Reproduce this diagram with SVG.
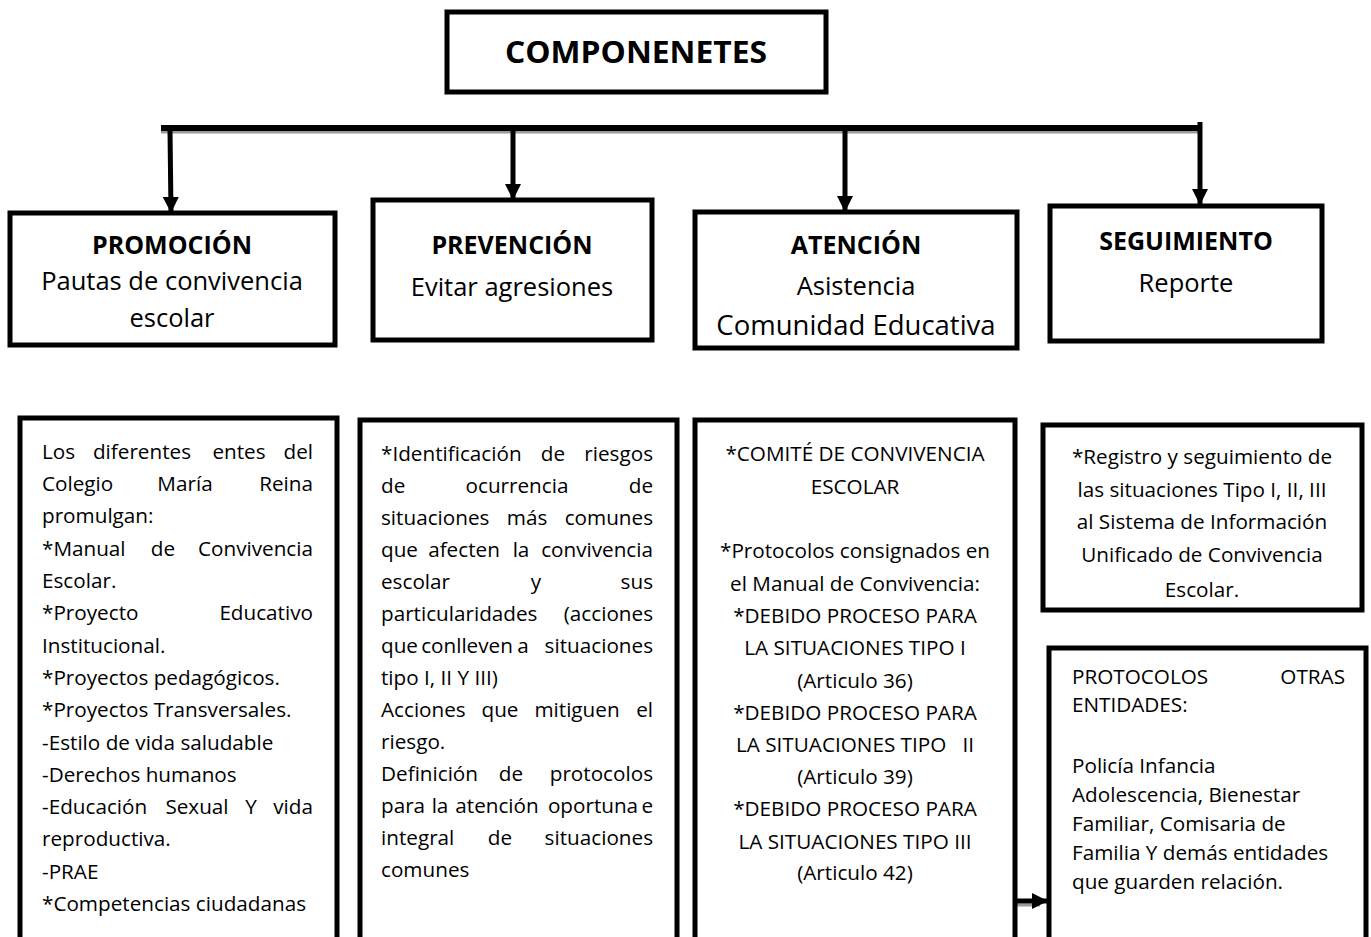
<svg xmlns="http://www.w3.org/2000/svg" width="1371" height="937" viewBox="0 0 1371 937">
<defs>
<style>
.box{fill:#fff;stroke:#000;stroke-width:5}
.t{font-family:"Open Sans","Liberation Sans",sans-serif;fill:#000}
.ttl{font-size:31px;font-weight:bold}
.hd{font-size:25px;font-weight:bold}
.sub{font-size:25.5px}
.b{font-size:20.7px}
.c{text-anchor:middle}
.m{text-anchor:middle}
.e{text-anchor:end}
.ln{stroke:#000;stroke-width:5;fill:none}
.sh{stroke:#9a9a9a;stroke-width:3;fill:none}
</style>
<marker id="ah" viewBox="0 0 10 10" refX="10" refY="5" markerWidth="3.2" markerHeight="3.2" markerUnits="strokeWidth" orient="auto">
<path d="M0,0 L10,5 L0,10 z" fill="#000"/>
</marker>
</defs>
<rect width="1371" height="937" fill="#fff"/>

<g id="connectors">
<line class="sh" x1="161" y1="132" x2="1198" y2="132"/>
<line x1="161" y1="128" x2="1198" y2="128" stroke="#000" stroke-width="6"/>
<line class="ln" x1="170" y1="130" x2="171" y2="213" marker-end="url(#ah)"/>
<line class="ln" x1="513" y1="130" x2="513" y2="200" marker-end="url(#ah)"/>
<line class="ln" x1="845" y1="130" x2="845" y2="212" marker-end="url(#ah)"/>
<line class="ln" x1="1200" y1="122" x2="1200" y2="205" marker-end="url(#ah)"/>
<line class="sh" x1="1015" y1="905" x2="1040" y2="905"/>
<line class="ln" x1="1015" y1="901" x2="1048" y2="901" marker-end="url(#ah)"/>
</g>

<g id="title">
<rect class="box" x="447" y="12" width="379" height="80" stroke-width="4.5"/>
<text class="t ttl c" x="636" y="63" textLength="262" lengthAdjust="spacingAndGlyphs">COMPONENETES</text>
</g>

<g id="promocion">
<rect class="box" x="10" y="213" width="325" height="132"/>
<text class="t hd c" x="172" y="254">PROMOCIÓN</text>
<text class="t sub c" x="172" y="290">Pautas de convivencia</text>
<text class="t sub c" x="172" y="327">escolar</text>
</g>

<g id="prevencion">
<rect class="box" x="373" y="200" width="279" height="140"/>
<text class="t hd c" x="512" y="254">PREVENCIÓN</text>
<text class="t sub c" x="512" y="296">Evitar agresiones</text>
</g>

<g id="atencion">
<rect class="box" x="695" y="212" width="322" height="136"/>
<text class="t hd c" x="856" y="254">ATENCIÓN</text>
<text class="t sub c" x="856" y="295">Asistencia</text>
<text class="t sub c" x="856" y="335" style="font-size:27.5px">Comunidad Educativa</text>
</g>

<g id="seguimiento">
<rect class="box" x="1050" y="206" width="272" height="135"/>
<text class="t hd c" x="1186" y="250">SEGUIMIENTO</text>
<text class="t sub c" x="1186" y="292">Reporte</text>
</g>

<g id="promocion-detalle">
<rect class="box" x="20" y="418" width="317" height="560"/>
<g class="t b">
<text y="459"><tspan x="42">Los</tspan><tspan x="142" class="m">diferentes</tspan><tspan x="239" class="m">entes</tspan><tspan x="313" class="e">del</tspan></text>
<text y="491"><tspan x="42">Colegio</tspan><tspan x="185" class="m">María</tspan><tspan x="313" class="e">Reina</tspan></text>
<text x="42" y="523">promulgan:</text>
<text y="556"><tspan x="42">*Manual</tspan><tspan x="163" class="m">de</tspan><tspan x="313" class="e">Convivencia</tspan></text>
<text x="42" y="588">Escolar.</text>
<text y="620"><tspan x="42">*Proyecto</tspan><tspan x="313" class="e">Educativo</tspan></text>
<text x="42" y="653">Institucional.</text>
<text x="42" y="685">*Proyectos pedagógicos.</text>
<text x="42" y="717">*Proyectos Transversales.</text>
<text x="42" y="750">-Estilo de vida saludable</text>
<text x="42" y="782">-Derechos humanos</text>
<text y="814"><tspan x="42">-Educación</tspan><tspan x="197" class="m">Sexual</tspan><tspan x="251" class="m">Y</tspan><tspan x="313" class="e">vida</tspan></text>
<text x="42" y="846">reproductiva.</text>
<text x="42" y="879">-PRAE</text>
<text x="42" y="911">*Competencias ciudadanas</text>
</g>
</g>

<g id="prevencion-detalle">
<rect class="box" x="360" y="420" width="317" height="560"/>
<g class="t b">
<text y="461"><tspan x="381">*Identificación</tspan><tspan x="553" class="m">de</tspan><tspan x="653" class="e">riesgos</tspan></text>
<text y="493"><tspan x="381">de</tspan><tspan x="517" class="m">ocurrencia</tspan><tspan x="653" class="e">de</tspan></text>
<text y="525"><tspan x="381">situaciones</tspan><tspan x="527" class="m">más</tspan><tspan x="653" class="e">comunes</tspan></text>
<text y="557"><tspan x="381">que</tspan><tspan x="464" class="m">afecten</tspan><tspan x="521" class="m">la</tspan><tspan x="653" class="e">convivencia</tspan></text>
<text y="589"><tspan x="381">escolar</tspan><tspan x="536" class="m">y</tspan><tspan x="653" class="e">sus</tspan></text>
<text y="621"><tspan x="381">particularidades</tspan><tspan x="653" class="e">(acciones</tspan></text>
<text y="653"><tspan x="381">que</tspan><tspan x="467" class="m">conlleven</tspan><tspan x="523" class="m">a</tspan><tspan x="653" class="e">situaciones</tspan></text>
<text x="381" y="685">tipo I, II Y III)</text>
<text y="717"><tspan x="381">Acciones</tspan><tspan x="500" class="m">que</tspan><tspan x="577" class="m">mitiguen</tspan><tspan x="653" class="e">el</tspan></text>
<text x="381" y="749">riesgo.</text>
<text y="781"><tspan x="381">Definición</tspan><tspan x="511" class="m">de</tspan><tspan x="653" class="e">protocolos</tspan></text>
<text y="813"><tspan x="381">para</tspan><tspan x="440" class="m">la</tspan><tspan x="497" class="m">atención</tspan><tspan x="593" class="m">oportuna</tspan><tspan x="653" class="e">e</tspan></text>
<text y="845"><tspan x="381">integral</tspan><tspan x="500" class="m">de</tspan><tspan x="653" class="e">situaciones</tspan></text>
<text x="381" y="877">comunes</text>
</g>
</g>

<g id="atencion-detalle">
<rect class="box" x="695" y="420" width="320" height="560"/>
<g class="t b c">
<text x="855" y="461">*COMITÉ DE CONVIVENCIA</text>
<text x="855" y="494">ESCOLAR</text>
<text x="855" y="558">*Protocolos consignados en</text>
<text x="855" y="591">el Manual de Convivencia:</text>
<text x="855" y="623">*DEBIDO PROCESO PARA</text>
<text x="855" y="655">LA SITUACIONES TIPO I</text>
<text x="855" y="688">(Articulo 36)</text>
<text x="855" y="720">*DEBIDO PROCESO PARA</text>
<text x="855" y="752" xml:space="preserve">LA SITUACIONES TIPO   II</text>
<text x="855" y="784">(Articulo 39)</text>
<text x="855" y="816">*DEBIDO PROCESO PARA</text>
<text x="855" y="849">LA SITUACIONES TIPO III</text>
<text x="855" y="880">(Articulo 42)</text>
</g>
</g>

<g id="seguimiento-detalle">
<rect class="box" x="1043" y="425" width="319" height="185"/>
<g class="t b c">
<text x="1202" y="464">*Registro y seguimiento de</text>
<text x="1202" y="497">las situaciones Tipo I, II, III</text>
<text x="1202" y="529">al Sistema de Información</text>
<text x="1202" y="562">Unificado de Convivencia</text>
<text x="1202" y="597">Escolar.</text>
</g>
</g>

<g id="protocolos-otras">
<rect class="box" x="1049" y="648" width="317" height="330"/>
<g class="t b">
<text y="684"><tspan x="1072">PROTOCOLOS</tspan><tspan x="1345" class="e">OTRAS</tspan></text>
<text x="1072" y="712">ENTIDADES:</text>
<text x="1072" y="773">Policía Infancia</text>
<text x="1072" y="802">Adolescencia, Bienestar</text>
<text x="1072" y="831">Familiar, Comisaria de</text>
<text x="1072" y="860">Familia Y demás entidades</text>
<text x="1072" y="889">que guarden relación.</text>
</g>
</g>
</svg>
